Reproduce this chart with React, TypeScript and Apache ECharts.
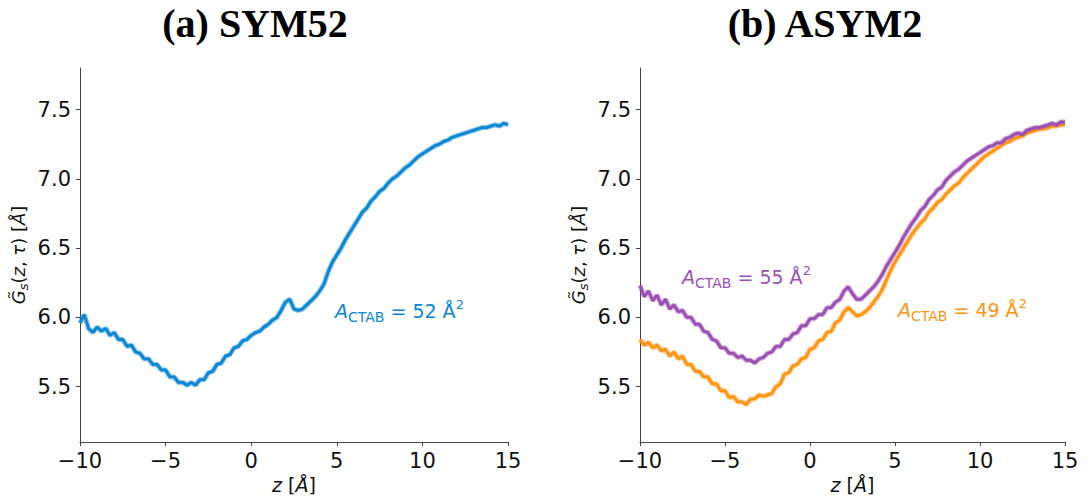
import React, { useEffect, useRef } from "react";
import * as echarts from "echarts";

const zValues = [
  -10, -9.75, -9.5, -9.25, -9, -8.75, -8.5, -8.25, -8, -7.75, -7.5, -7.25, -7, -6.75, -6.5, -6.25,
  -6, -5.75, -5.5, -5.25, -5, -4.75, -4.5, -4.25, -4, -3.75, -3.5, -3.25, -3, -2.75, -2.5, -2.25,
  -2, -1.75, -1.5, -1.25, -1, -0.75, -0.5, -0.25, 0, 0.25, 0.5, 0.75, 1, 1.25, 1.5, 1.75,
  2, 2.25, 2.5, 2.75, 3, 3.25, 3.5, 3.75, 4, 4.25, 4.5, 4.75, 5, 5.25, 5.5, 5.75,
  6, 6.25, 6.5, 6.75, 7, 7.25, 7.5, 7.75, 8, 8.25, 8.5, 8.75, 9, 9.25, 9.5, 9.75,
  10, 10.25, 10.5, 10.75, 11, 11.25, 11.5, 11.75, 12, 12.25, 12.5, 12.75, 13, 13.25, 13.5, 13.75,
  14, 14.25, 14.5, 14.75, 15,
];

const sym52 = [
  5.96, 6.02, 5.92, 5.89, 5.93, 5.9, 5.92, 5.87, 5.89, 5.84, 5.84, 5.79, 5.8, 5.75, 5.74, 5.7,
  5.7, 5.66, 5.66, 5.62, 5.62, 5.57, 5.57, 5.53, 5.53, 5.51, 5.53, 5.51, 5.55, 5.55, 5.6, 5.61,
  5.66, 5.67, 5.72, 5.73, 5.78, 5.79, 5.83, 5.84, 5.87, 5.89, 5.9, 5.93, 5.95, 5.98, 6.0, 6.05,
  6.11, 6.13, 6.06, 6.05, 6.06, 6.09, 6.12, 6.15, 6.19, 6.24, 6.33, 6.4, 6.45, 6.5, 6.56, 6.61,
  6.66, 6.71, 6.76, 6.79, 6.84, 6.87, 6.91, 6.93, 6.97, 7.0, 7.02, 7.05, 7.08, 7.1, 7.13, 7.16,
  7.18, 7.2, 7.22, 7.24, 7.25, 7.27, 7.28, 7.3, 7.31, 7.32, 7.33, 7.34, 7.35, 7.36, 7.37, 7.37,
  7.38, 7.39, 7.38, 7.4, 7.39,
];

const asym2Upper = [
  6.23, 6.15, 6.19, 6.12, 6.16, 6.09, 6.13, 6.06, 6.09, 6.04, 6.05, 6.0, 6.0, 5.95, 5.95, 5.9,
  5.89, 5.84, 5.83, 5.78, 5.78, 5.74, 5.74, 5.71, 5.72, 5.69, 5.69, 5.67, 5.7, 5.71, 5.74, 5.75,
  5.79, 5.79, 5.84, 5.84, 5.88, 5.89, 5.94, 5.94, 5.99, 5.99, 6.02, 6.02, 6.07, 6.07, 6.11, 6.13,
  6.19, 6.22, 6.17, 6.13, 6.13, 6.16, 6.19, 6.22, 6.26, 6.31, 6.37, 6.42, 6.47, 6.52, 6.58, 6.63,
  6.68, 6.72, 6.77, 6.8, 6.85, 6.88, 6.92, 6.94, 6.99, 7.02, 7.05, 7.07, 7.1, 7.13, 7.15, 7.17,
  7.19, 7.21, 7.23, 7.24, 7.26, 7.26, 7.29, 7.3, 7.32, 7.33, 7.32, 7.35, 7.36, 7.37, 7.37, 7.38,
  7.39, 7.4, 7.39, 7.41, 7.41,
];

const asym2Lower = [
  5.84, 5.8, 5.82, 5.78, 5.8, 5.76, 5.77, 5.72, 5.75, 5.7, 5.72, 5.66, 5.66, 5.61, 5.61, 5.57,
  5.57, 5.52, 5.52, 5.47, 5.47, 5.42, 5.43, 5.39, 5.39, 5.37, 5.41, 5.41, 5.44, 5.43, 5.44, 5.45,
  5.5, 5.52, 5.59, 5.6, 5.65, 5.66, 5.7, 5.71, 5.77, 5.78, 5.83, 5.84, 5.89, 5.9, 5.96, 5.98,
  6.04, 6.07, 6.04, 6.01, 6.02, 6.04, 6.07, 6.11, 6.15, 6.2, 6.27, 6.34, 6.4, 6.45, 6.5, 6.55,
  6.6, 6.64, 6.68, 6.71, 6.76, 6.79, 6.83, 6.85, 6.89, 6.92, 6.95, 6.97, 7.01, 7.04, 7.07, 7.1,
  7.13, 7.16, 7.18, 7.2, 7.22, 7.24, 7.26, 7.27, 7.29, 7.3, 7.31, 7.33, 7.34, 7.35, 7.36, 7.36,
  7.37, 7.38, 7.38, 7.39, 7.39,
];

const yTicks = [5.5, 6.0, 6.5, 7.0, 7.5];
const titles = ["(a) SYM52", "(b) ASYM2"];
const labels = ["52", "55", "49"];

const BLUE = "#0a86d4";
const PURPLE = "#9b4fb5";
const ORANGE = "#ff9410";
const FONT = "DejaVu Sans";
const AXIS = "#444";

function pairs(vals: number[]) {
  return zValues.map((z, i) => [z, vals[i]]);
}

function lineSeries(idx: number, vals: number[], color: string) {
  return [
    {
      type: "line",
      xAxisIndex: idx,
      yAxisIndex: idx,
      data: pairs(vals),
      showSymbol: false,
      lineStyle: { color, width: 5, opacity: 0.5 },
      silent: true,
    },
    {
      type: "line",
      xAxisIndex: idx,
      yAxisIndex: idx,
      data: pairs(vals),
      showSymbol: false,
      lineStyle: { color, width: 2.8 },
      silent: true,
    },
  ];
}

function xAxisDef(idx: number) {
  return {
    type: "value",
    gridIndex: idx,
    min: -10,
    max: 15,
    interval: 5,
    splitLine: { show: false },
    axisLine: { show: true, onZero: false, lineStyle: { color: AXIS, width: 1 } },
    axisTick: { show: true, length: 4, lineStyle: { color: AXIS } },
    axisLabel: {
      fontFamily: FONT,
      fontSize: 21,
      color: "#111",
      margin: 8,
      formatter: (v: number) => (v < 0 ? "\u2212" + Math.abs(v) : String(v)),
    },
    name: "{i|z}{n| [}{i|Å}{n|]}",
    nameLocation: "middle",
    nameGap: 33,
    nameTextStyle: {
      rich: {
        i: { fontFamily: FONT, fontSize: 19, fontStyle: "italic", color: "#111" },
        n: { fontFamily: FONT, fontSize: 19, color: "#111" },
      },
    },
  };
}

function yAxisDef(idx: number) {
  return {
    type: "value",
    gridIndex: idx,
    min: 5.1,
    max: 7.8,
    splitLine: { show: false },
    axisLine: { show: true, onZero: false, lineStyle: { color: AXIS, width: 1 } },
    axisTick: { show: true, length: 4, customValues: yTicks, lineStyle: { color: AXIS } },
    axisLabel: {
      fontFamily: FONT,
      fontSize: 21,
      color: "#111",
      margin: 9,
      customValues: yTicks,
      formatter: (v: number) => v.toFixed(1),
    },
    name: "{i|G\u0303}{sub|s}{n|(}{i|z}{n|, }{i|τ}{n|) [}{i|Å}{n|]}",
    nameLocation: "middle",
    nameRotate: 90,
    nameGap: 50,
    nameTextStyle: {
      rich: {
        i: { fontFamily: FONT, fontSize: 18, fontStyle: "italic", color: "#111", lineHeight: 24 },
        n: { fontFamily: FONT, fontSize: 18, color: "#111", lineHeight: 24 },
        sub: { fontFamily: FONT, fontSize: 13, fontStyle: "italic", color: "#111", verticalAlign: "bottom", lineHeight: 24 },
      },
    },
  };
}

function annot(x: number, y: number, val: string, color: string) {
  return {
    type: "text",
    x,
    y,
    style: {
      text: "{i|A}{sub|CTAB}{n| = " + val + " Å}{sup|2}",
      textVerticalAlign: "middle",
      rich: {
        i: { fontFamily: FONT, fontSize: 19, fontStyle: "italic", fill: color, lineHeight: 26 },
        n: { fontFamily: FONT, fontSize: 19, fill: color, lineHeight: 26 },
        sub: { fontFamily: FONT, fontSize: 14, fill: color, verticalAlign: "bottom", lineHeight: 26 },
        sup: { fontFamily: FONT, fontSize: 13, fill: color, verticalAlign: "top", lineHeight: 26 },
      },
    },
  };
}

export default function App() {
  const ref = useRef<HTMLDivElement>(null);
  useEffect(() => {
    if (!ref.current) return;
    const chart = echarts.init(ref.current, null, { renderer: "svg" });
    chart.setOption({
      animation: false,
      backgroundColor: "#fff",
      grid: [
        { left: 80, right: 579, top: 68, bottom: 58, outerBoundsMode: "none", containLabel: false },
        { left: 640, right: 22, top: 68, bottom: 58, outerBoundsMode: "none", containLabel: false },
      ],
      xAxis: [xAxisDef(0), xAxisDef(1)],
      yAxis: [yAxisDef(0), yAxisDef(1)],
      series: [
        ...lineSeries(0, sym52, BLUE),
        ...lineSeries(1, asym2Lower, ORANGE),
        ...lineSeries(1, asym2Upper, PURPLE),
      ],
      graphic: [
        {
          type: "text",
          x: 255,
          y: 23,
          style: {
            text: titles[0],
            textAlign: "center",
            textVerticalAlign: "middle",
            font: 'bold 40px "Liberation Serif"',
            fill: "#000",
          },
        },
        {
          type: "text",
          x: 825,
          y: 23,
          style: {
            text: titles[1],
            textAlign: "center",
            textVerticalAlign: "middle",
            font: 'bold 40px "Liberation Serif"',
            fill: "#000",
          },
        },
        annot(335, 311, labels[0], BLUE),
        annot(682, 277, labels[1], PURPLE),
        annot(898, 310, labels[2], ORANGE),
      ],
    });
    return () => chart.dispose();
  }, []);
  return (
    <div
      ref={ref}
      style={{ position: "fixed", left: 0, top: 0, width: 1087, height: 500, background: "#fff" }}
    />
  );
}
